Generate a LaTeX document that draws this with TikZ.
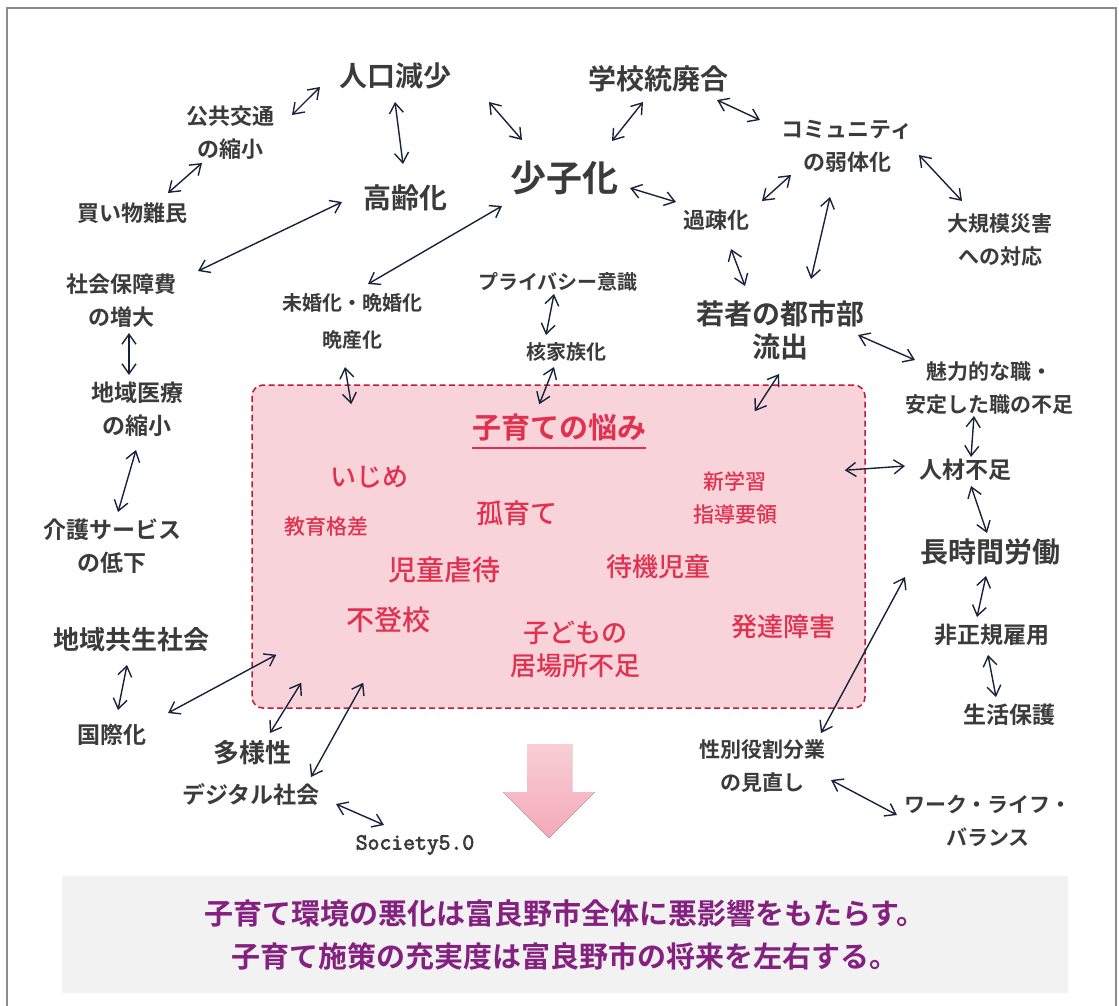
\documentclass[tikz,border=0pt]{standalone}
\usepackage{fontspec}
\setmainfont{Noto Sans CJK JP}[UprightFont=* Medium, BoldFont=* Bold]
\newfontfamily\socfont{Latin Modern Mono}[AutoFakeBold=3]
\usetikzlibrary{arrows.meta}

\definecolor{ink}{HTML}{3B3B3B}
\definecolor{arrowc}{HTML}{17223B}
\definecolor{crimson}{HTML}{E2304F}
\definecolor{boxline}{HTML}{C0183F}
\definecolor{boxfill}{HTML}{F9D3DA}
\definecolor{panel}{HTML}{F2F2F2}
\definecolor{msgc}{HTML}{84207F}
\definecolor{framec}{HTML}{8C8C8C}
\definecolor{downtop}{HTML}{F9CFD7}
\definecolor{downbot}{HTML}{F3A9B8}

\newcommand{\fsz}[1]{\fontsize{#1}{33}\selectfont}

\begin{document}
\begin{tikzpicture}[x=1pt, y=-1pt,
    >={Straight Barb[length=10pt,width=14pt]},
    term/.style={text=ink, align=center, inner sep=0pt, font=\bfseries\fsz{#1}},
    worry/.style={text=crimson, align=center, inner sep=0pt, font=\fsz{#1}},
    worrybox/.style={draw=boxline, fill=boxfill, dash pattern=on 6pt off 3.5pt,
      line width=1.5pt, rounded corners=11pt},
    link/.style={<->, draw=arrowc, line width=1.4pt}]

  \useasboundingbox (0,0) rectangle (1119,1005);
  \draw[framec, line width=1.5pt] (7,1012) -- (7,8) -- (1116,8) -- (1116,1012);

  % problems of child rearing
  \node[worrybox, minimum width=613pt, minimum height=323pt] (box) at (558.5,546.5) {};
  \node[text=crimson, inner sep=0pt, font=\bfseries\fsz{29}] (title) at (559,428) {子育ての悩み};
  \draw[crimson, line width=2pt] ([yshift=-6pt]title.south west) -- ([yshift=-6pt]title.south east);
  \node[worry=26] (ijime)    at (369,477) {いじめ};
  \node[worry=21] (kakusa)   at (326,527) {教育格差};
  \node[worry=27] (koiku)    at (517,513) {孤育て};
  \node[worry=21] (shin)     at (735,498) {新学習\\指導要領};
  \node[worry=28] (gyakutai) at (444,570) {児童虐待};
  \node[worry=26] (taiki)    at (658,567) {待機児童};
  \node[worry=28] (futoko)   at (388,620) {不登校};
  \node[worry=26] (ibasho)   at (575,649) {子どもの\\居場所不足};
  \node[worry=26] (hattatsu) at (783,627) {発達障害};

  % surrounding factors
  \node[term=28] (jinko)    at (395,76)  {人口減少};
  \node[term=28] (gakko)    at (658,79)  {学校統廃合};
  \node[term=22] (kokyo)    at (230,133) {公共交通\\の縮小};
  \node[term=22] (kaimono)  at (132,213) {買い物難民};
  \node[term=28] (korei)    at (405,198) {高齢化};
  \node[term=36] (shoshi)   at (564,178) {少子化};
  \node[term=22] (komyu)    at (847,146) {コミュニティ\\の弱体化};
  \node[term=21] (saigai)   at (1000,240) {大規模災害\\への対応};
  \node[term=22] (kaso)     at (716,220) {過疎化};
  \node[term=28] (wakamono) at (780,330) {若者の都市部\\流出};
  \node[term=21] (miryoku)  at (989,388) {魅力的な職・\\安定した職の不足};
  \node[term=22] (shakai)   at (121,301) {社会保障費\\の増大};
  \node[term=20] (mikon)    at (352,321) {未婚化・晩婚化\\[4pt]晩産化};
  \node[term=20] (privacy)  at (558,282) {プライバシー意識};
  \node[term=20] (kaku)     at (566,352) {核家族化};
  \node[term=23] (iryo)     at (137,409) {地域医療\\の縮小};
  \node[term=23] (kaigo)    at (112,546) {介護サービス\\の低下};
  \node[term=26] (kyosei)   at (131,640) {地域共生社会};
  \node[term=23] (kokusai)  at (112,735) {国際化};
  \node[term=26] (tayo)     at (252,753) {多様性};
  \node[term=23] (digital)  at (251,795) {デジタル社会};
  \node[text=ink, inner sep=0pt, font=\socfont\bfseries\fontsize{23}{26}\selectfont] (society) at (415,845) {Society5.0};
  \node[term=23] (jinzai)   at (965,470) {人材不足};
  \node[term=28] (choji)    at (990,552) {長時間労働};
  \node[term=23] (hisei)    at (992,635) {非正規雇用};
  \node[term=23] (seikatsu) at (1009,715) {生活保護};
  \node[term=21] (seibetsu) at (762,766) {性別役割分業\\の見直し};
  \node[term=21] (work)     at (988,821) {ワーク・ライフ・\\バランス};

  % links
  \draw[link] ([shift={(62,-18)}]kokyo.center) -- ([shift={(-75,11)}]jinko.center);
  \draw[link] ([shift={(36,-20)}]kaimono.center) -- ([shift={(-28,30)}]kokyo.center);
  \draw[link] ([shift={(0,26)}]jinko.center) -- ([shift={(-2,-34)}]korei.center);
  \draw[link] ([shift={(94,26)}]jinko.center) -- ([shift={(-42,-38)}]shoshi.center);
  \draw[link] ([shift={(-63,4)}]korei.center) -- ([shift={(77,-30)}]shakai.center);
  \draw[link] ([shift={(-62,28)}]shoshi.center) -- ([shift={(16,-37)}]mikon.center);
  \draw[link] ([shift={(48,-37)}]shoshi.center) -- ([shift={(-15,23)}]gakko.center);
  \draw[link] ([shift={(59,21)}]gakko.center) -- ([shift={(-87,-26)}]komyu.center);
  \draw[link] ([shift={(66,10)}]shoshi.center) -- ([shift={(-40,-18)}]kaso.center);
  \draw[link] ([shift={(46,-19)}]kaso.center) -- ([shift={(-56,29)}]komyu.center);
  \draw[link] ([shift={(72,9)}]komyu.center) -- ([shift={(-38,-39)}]saigai.center);
  \draw[link] ([shift={(15,29)}]kaso.center) -- ([shift={(-35,-44)}]wakamono.center);
  \draw[link] ([shift={(-17,51)}]komyu.center) -- ([shift={(31,-51)}]wakamono.center);
  \draw[link] ([shift={(78,5)}]wakamono.center) -- ([shift={(-74,-28)}]miryoku.center);
  \draw[link] ([shift={(-1,44)}]wakamono.center) -- ([shift={(-111,27)}]box.north east);
  \draw[link] ([shift={(-7,46)}]mikon.center) -- ([shift={(100,20)}]box.north west);
  \draw[link] ([shift={(-4,12)}]privacy.center) -- ([shift={(-20,-17)}]kaku.center);
  \draw[link] ([shift={(-12,15)}]kaku.center) -- ([shift={(288,20)}]box.north west);
  \draw[link] ([shift={(8,32)}]shakai.center) -- ([shift={(-8,-34)}]iryo.center);
  \draw[link] ([shift={(-1,41)}]iryo.center) -- ([shift={(6,-34)}]kaigo.center);
  \draw[link] ([shift={(-4,25)}]kyosei.center) -- ([shift={(6,-25)}]kokusai.center);
  \draw[link] ([shift={(56,-22)}]kokusai.center) -- ([shift={(25,-54)}]box.south west);
  \draw[link] ([shift={(18,-20)}]tayo.center) -- ([shift={(50,-26)}]box.south west);
  \draw[link] ([shift={(60,-18)}]digital.center) -- ([shift={(112,-26)}]box.south west);
  \draw[link] ([shift={(85,9)}]digital.center) -- ([shift={(-31,-20)}]society.center);
  \draw[link] ([shift={(-21,86)}]box.north east) -- ([shift={(-60,-4)}]jinzai.center);
  \draw[link] ([shift={(-15,28)}]miryoku.center) -- ([shift={(6,-13)}]jinzai.center);
  \draw[link] ([shift={(6,16)}]jinzai.center) -- ([shift={(-3,-19)}]choji.center);
  \draw[link] ([shift={(-4,24)}]choji.center) -- ([shift={(-15,-18)}]hisei.center);
  \draw[link] ([shift={(-4,20)}]hisei.center) -- ([shift={(-13,-18)}]seikatsu.center);
  \draw[link] ([shift={(-85,25)}]choji.center) -- ([shift={(59,-33)}]seibetsu.center);
  \draw[link] ([shift={(69,14)}]seibetsu.center) -- ([shift={(-91,-6)}]work.center);

  % down arrow and message
  \fill[top color=downtop, bottom color=downbot]
    (527,744) -- (572,744) -- (572,792) -- (595,792) -- (549,838) -- (503,792) -- (527,792) -- cycle;
  \node[fill=panel, minimum width=1006pt, minimum height=117pt, text=msgc, align=center,
    font=\bfseries\fontsize{29}{43}\selectfont] (msg) at (565,934.5)
    {子育て環境の悪化は富良野市全体に悪影響をもたらす。\\子育て施策の充実度は富良野市の将来を左右する。};
\end{tikzpicture}
\end{document}
